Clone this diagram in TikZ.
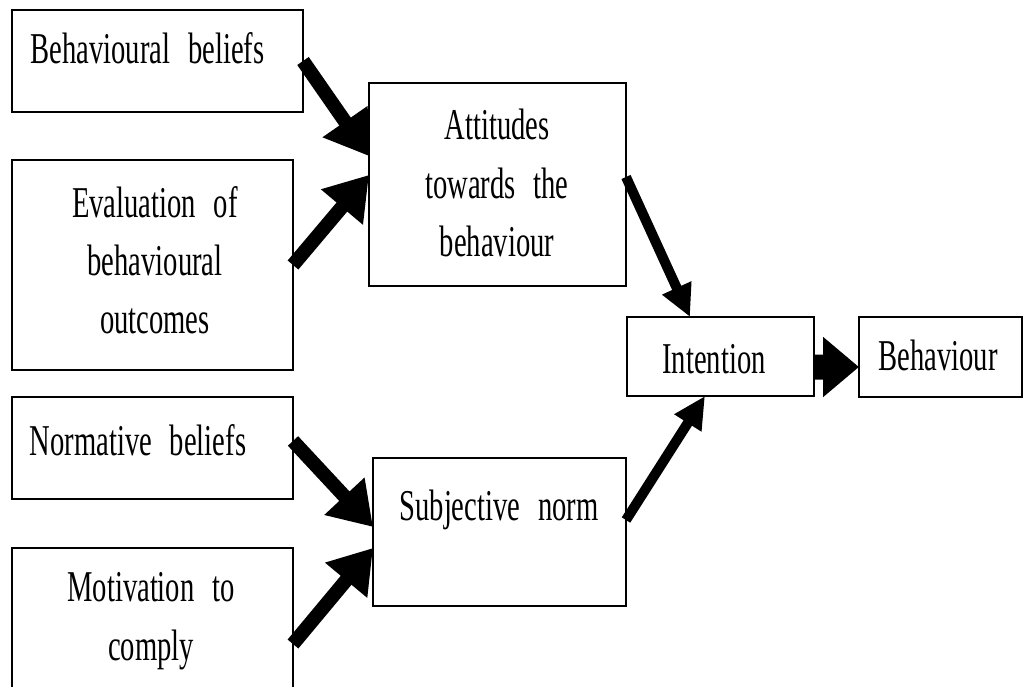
\documentclass[tikz,border=0pt]{standalone}
\usepackage{fontspec}
\newfontfamily\cf[FakeStretch=0.65,WordSpace=2.5]{Liberation Serif}
\usetikzlibrary{arrows.meta,calc}
\begin{document}
\begin{tikzpicture}[x=1pt,y=-1pt,
  box/.style={draw=black,line width=1.6pt,inner sep=0pt,outer sep=0pt},
  txt/.style={font=\cf\fontsize{44}{58.5}\selectfont,align=center,inner sep=0pt,anchor=base},
  big/.style={line width=14pt,-{Triangle[length=42pt,width=52pt]}},
  mid/.style={line width=10pt,-{Triangle[length=32pt,width=30pt]}},
  fat/.style={line width=25pt,-{Triangle[length=36pt,width=58pt]}}]
\fill[white] (0,0) rectangle (1026,687);
\useasboundingbox (0,0) rectangle (1026,687);
% boxes
\node[box,minimum width=291pt,minimum height=102pt] (bb) at (157.5,61) {};
\node[box,minimum width=281pt,minimum height=210pt] (ev) at (152.5,265) {};
\node[box,minimum width=257pt,minimum height=203pt] (att) at (497.5,184.5) {};
\node[box,minimum width=187pt,minimum height=79pt] (int) at (720.5,356.5) {};
\node[box,minimum width=163pt,minimum height=80pt] (beh) at (940.5,357) {};
\node[box,minimum width=281pt,minimum height=102pt] (nb) at (152.5,448) {};
\node[box,minimum width=253pt,minimum height=148pt] (sn) at (499.5,532) {};
\node[box,minimum width=281pt,minimum height=142pt] (mot) at (152.5,619) {};
% texts (anchor = baseline of last line)
\node[txt] (tbb) at (147.5,64) {Behavioural beliefs};
\node[txt] (tev) at (155,334) {Evaluation of\\behavioural\\outcomes};
\node[txt] (tatt) at (497,257) {Attitudes\\towards the\\behaviour};
\node[txt] (tint) at (714,373) {Intention};
\node[txt] (tbeh) at (938,370) {Behaviour};
\node[txt] (tnb) at (138,455) {Normative beliefs};
\node[txt] (tmot) at (151,660) {Motivation to\\comply};
\node[txt] (tsn) at (499,520) {Subjective norm};
% arrows
\draw[big] (bb.east) -- ($(att.north west)!0.36!(att.south west)$);
\draw[big] (ev.east) -- ($(att.north west)!0.453!(att.south west)$);
\draw[mid] ($(att.north east)!0.463!(att.south east)$) -- ($(int.north west)!0.337!(int.north east)$);
\draw[mid] ($(sn.north east)!0.419!(sn.south east)$) -- ($(int.south west)!0.417!(int.south east)$);
\draw[fat] ($(int.north east)!0.633!(int.south east)$) -- ($(beh.north west)!0.625!(beh.south west)$);
\draw[big] ($(nb.north east)!0.431!(nb.south east)$) -- ($(sn.north west)!0.466!(sn.south west)$);
\draw[big] ($(mot.north east)+(0,96)$) -- ($(sn.north west)!0.608!(sn.south west)$);
\end{tikzpicture}
\end{document}
